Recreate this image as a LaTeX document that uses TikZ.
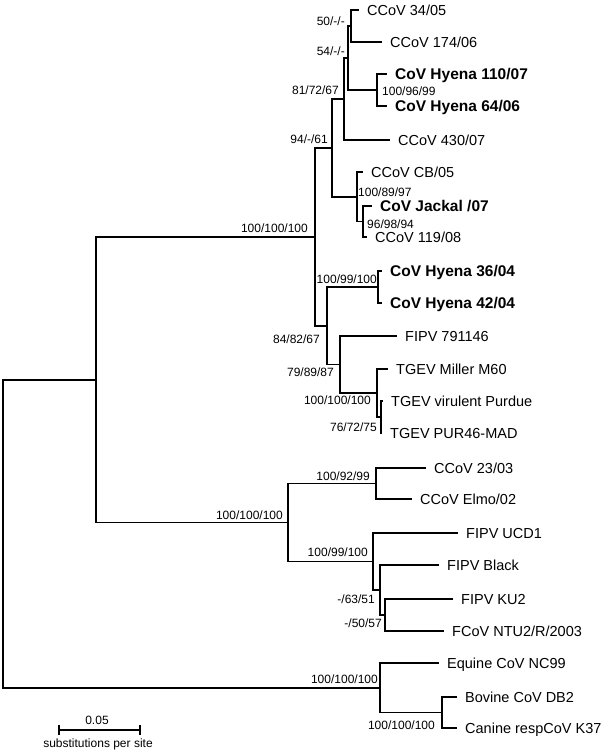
\documentclass[tikz,border=0pt]{standalone}
\usepackage{fontspec}
\setmainfont{Liberation Sans}

\begin{document}
\begin{tikzpicture}[x=1pt, y=-1pt,
    branch/.style={line width=1.3pt},
    leaf/.style={anchor=west, inner xsep=8pt, inner ysep=0pt,
        font=\fontsize{14.5}{16}\selectfont, text height=10.4pt, text depth=0pt},
    hyena/.style={leaf, font=\fontsize{15.5}{18}\selectfont\bfseries, text height=11.1pt},
    boot/.style={inner sep=0pt, font=\fontsize{12}{14}\selectfont,
        text height=8.6pt, text depth=0pt},
]
    \useasboundingbox (0,0) rectangle (609,753);

    % Leaves
    \node[leaf]  (l1)  at (359,10)  {CCoV 34/05};
    \node[leaf]  (l2)  at (382,42)  {CCoV 174/06};
    \node[hyena] (l3)  at (387,74)  {CoV Hyena 110/07};
    \node[hyena] (l4)  at (387,106) {CoV Hyena 64/06};
    \node[leaf]  (l5)  at (390,140) {CCoV 430/07};
    \node[leaf]  (l6)  at (363,172) {CCoV CB/05};
    \node[hyena] (l7)  at (372,206) {CoV Jackal /07};
    \node[leaf]  (l8)  at (367,237) {CCoV 119/08};
    \node[hyena] (l9)  at (382,271) {CoV Hyena 36/04};
    \node[hyena] (l10) at (382,303) {CoV Hyena 42/04};
    \node[leaf]  (l11) at (397,336) {FIPV 791146};
    \node[leaf]  (l12) at (388,369) {TGEV Miller M60};
    \node[leaf]  (l13) at (383,401) {TGEV virulent Purdue};
    \node[leaf]  (l14) at (382,433) {TGEV PUR46-MAD};
    \node[leaf]  (l15) at (426,468) {CCoV 23/03};
    \node[leaf]  (l16) at (412,499) {CCoV Elmo/02};
    \node[leaf]  (l17) at (458,533) {FIPV UCD1};
    \node[leaf]  (l18) at (439,565) {FIPV Black};
    \node[leaf]  (l19) at (453,599) {FIPV KU2};
    \node[leaf]  (l20) at (444,631) {FCoV NTU2/R/2003};
    \node[leaf]  (l21) at (439,663) {Equine CoV NC99};
    \node[leaf]  (l22) at (457,697) {Bovine CoV DB2};
    \node[leaf]  (l23) at (457,728) {Canine respCoV K37};

    % Inner nodes
    \coordinate (n50)   at (351,26);
    \coordinate (nh1)   at (377,90);
    \coordinate (n54)   at (348,58);
    \coordinate (n81)   at (344,99);
    \coordinate (n96)   at (363,221.5);
    \coordinate (n89)   at (357,197);
    \coordinate (n94)   at (332,148);
    \coordinate (nh2)   at (378,287);
    \coordinate (nt76)  at (381,417);
    \coordinate (ntg)   at (377,393);
    \coordinate (n79)   at (340,364.5);
    \coordinate (n84)   at (327,326);
    \coordinate (n100a) at (315,237);
    \coordinate (n92)   at (376,483.5);
    \coordinate (n50b)  at (385,615);
    \coordinate (n63)   at (380,590);
    \coordinate (nf)    at (373,561.5);
    \coordinate (n100b) at (288,522.5);
    \coordinate (r1)    at (96,380);
    \coordinate (nb)    at (442,712.5);
    \coordinate (ne)    at (380,688);
    \coordinate (root)  at (3,534);

    % Branches
    \draw[branch] (l1) -| (n50) |- (l2);
    \draw[branch] (l3) -| (nh1) |- (l4);
    \draw[branch] (n50) -| (n54) |- (nh1);
    \draw[branch] (n54) -| (n81) |- (l5);
    \draw[branch] (l7) -| (n96) |- (l8);
    \draw[branch] (l6) -| (n89) |- (n96);
    \draw[branch] (n81) -| (n94) |- (n89);
    \draw[branch] (l9) -| (nh2) |- (l10);
    \draw[branch] (l13) -| (nt76) |- (l14);
    \draw[branch] (l12) -| (ntg) |- (nt76);
    \draw[branch] (l11) -| (n79) |- (ntg);
    \draw[branch] (nh2) -| (n84) |- (n79);
    \draw[branch] (n94) -| (n100a) |- (n84);
    \draw[branch] (l15) -| (n92) |- (l16);
    \draw[branch] (l19) -| (n50b) |- (l20);
    \draw[branch] (l18) -| (n63) |- (n50b);
    \draw[branch] (l17) -| (nf) |- (n63);
    \draw[branch] (n92) -| (n100b) |- (nf);
    \draw[branch] (n100a) -| (r1) |- (n100b);
    \draw[branch] (l22) -| (nb) |- (l23);
    \draw[branch] (l21) -| (ne) |- (nb);
    \draw[branch] (r1) -| (root) |- (ne);

    % Bootstrap values
    \node[boot, anchor=east] (b50)   at (345,21)  {50/-/-};
    \node[boot, anchor=east] (b54)   at (345,51)  {54/-/-};
    \node[boot, anchor=east] (b81)   at (339,90)  {81/72/67};
    \node[boot, anchor=east] (b94)   at (328,139) {94/-/61};
    \node[boot, anchor=east] (b100a) at (308,228) {100/100/100};
    \node[boot, anchor=west] (bh1)   at (382,91)  {100/96/99};
    \node[boot, anchor=west] (b89)   at (358,192) {100/89/97};
    \node[boot, anchor=west] (b96)   at (367,224) {96/98/94};
    \node[boot, anchor=east] (bh2)   at (377,279) {100/99/100};
    \node[boot, anchor=east] (b84)   at (320,339) {84/82/67};
    \node[boot, anchor=east] (b79)   at (334,372) {79/89/87};
    \node[boot, anchor=east] (btg)   at (371,400) {100/100/100};
    \node[boot, anchor=east] (b76)   at (377,427) {76/72/75};
    \node[boot, anchor=east] (b92)   at (370,476) {100/92/99};
    \node[boot, anchor=east] (b100b) at (283,515) {100/100/100};
    \node[boot, anchor=east] (bf)    at (368,552) {100/99/100};
    \node[boot, anchor=east] (b63)   at (375,599) {-/63/51};
    \node[boot, anchor=east] (b50b)  at (382,623) {-/50/57};
    \node[boot, anchor=east] (be)    at (378,679) {100/100/100};
    \node[boot, anchor=east] (bb)    at (435,725) {100/100/100};

    % Scale bar
    \coordinate (sb1) at (59,730);
    \coordinate (sb2) at (140,730);
    \draw[branch] (sb1) -- (sb2);
    \draw[branch] (sb1) ++(0,-5) -- ++(0,10);
    \draw[branch] (sb2) ++(0,-5) -- ++(0,10);
    \node[boot] (scale)     at (97,720) {0.05};
    \node[boot] (scaletext) at (98,743) {substitutions per site};
\end{tikzpicture}
\end{document}
